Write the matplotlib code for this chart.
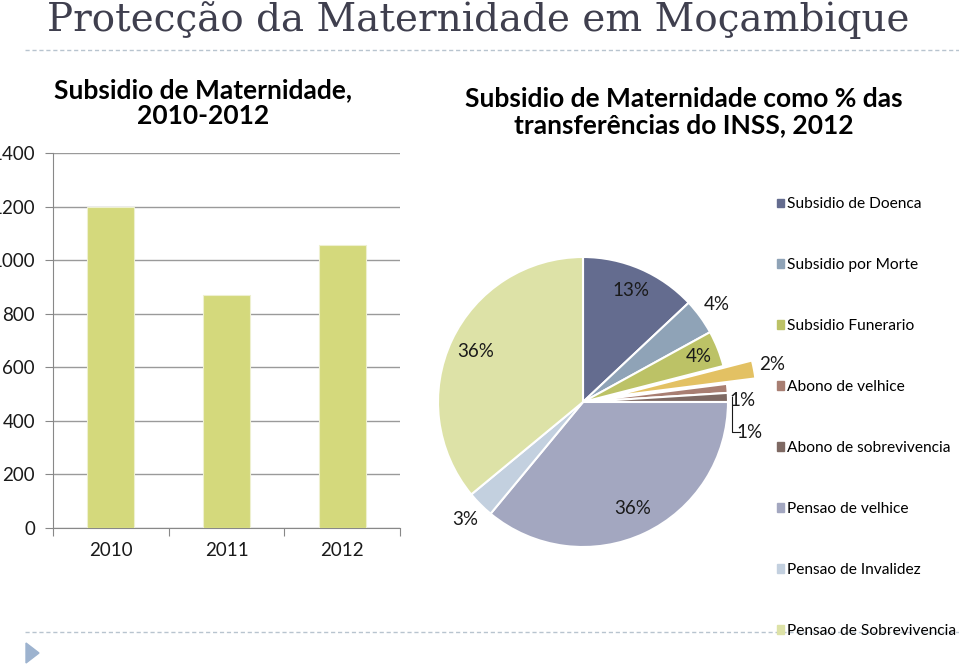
import matplotlib.pyplot as plt
from matplotlib.patches import Patch, Polygon
from matplotlib.lines import Line2D
import numpy as np

# Bar chart data
years = ["2010", "2011", "2012"]
subsidio = [1200, 870, 1055]

# Pie chart data (clockwise from 12 o'clock)
labels = ["Subsidio de Doenca", "Subsidio por Morte", "Subsidio Funerario",
          "Subsidio de Maternidade", "Abono de velhice", "Abono de sobrevivencia",
          "Pensao de velhice", "Pensao de Invalidez", "Pensao de Sobrevivencia"]
shares = [13, 4, 4, 2, 1, 1, 36, 3, 36]
colors = ["#646C8F", "#8FA3B7", "#BCC266", "#E3C163", "#A87E72", "#7E6963",
          "#A3A7C0", "#C3D0DF", "#DDE2A7"]
explode = [0, 0, 0, 0.2, 0, 0, 0, 0, 0]
label_dist = [0.84, 1.14, 0.86, 1.33, 1.1, 1.17, 0.81, 1.15, 0.82]
label_rot = [0, 0, 0, 0.5, -5, -12, 0, 0, 0]   # small angular nudges (deg)

W, H = 959, 664
fig = plt.figure(figsize=(W / 100, H / 100), dpi=100)
font = "Lato"

# slide title and decorations
fig.text(47 / W, 1 - 20 / H, "Protecção da Maternidade em Moçambique",
         family="DejaVu Serif", fontsize=28, color="#3F3F4E", va="center", ha="left")
fig.add_artist(Line2D([25 / W, 1], [1 - 50 / H] * 2, transform=fig.transFigure,
                      color="#B8C4CF", lw=1, ls=(0, (3, 2))))
fig.add_artist(Line2D([25 / W, 1], [1 - 632 / H] * 2, transform=fig.transFigure,
                      color="#B8C4CF", lw=1, ls=(0, (3, 2))))
fig.add_artist(Polygon([[26 / W, 1 - 643 / H], [26 / W, 1 - 663 / H], [39 / W, 1 - 653 / H]],
                       closed=True, transform=fig.transFigure, color="#9DB3CF"))

# bar chart
ax = fig.add_axes([53 / W, 1 - 528 / H, 347 / W, 375 / H])
x = np.arange(len(years))
ax.bar(x, subsidio, width=0.405, color="#D4D97C", edgecolor="#EEF0D0", lw=0.8, zorder=3)
ax.set_xlim(-0.5, 2.5)
ax.set_ylim(0, 1400)
ax.set_yticks(range(0, 1401, 200))
ax.yaxis.grid(True, color="#9A9A9A", lw=1)
ax.set_axisbelow(True)
ax.set_xticks([-0.5, 0.5, 1.5, 2.5])
ax.set_xticklabels([])
ax.set_xticks(x, minor=True)
ax.set_xticklabels(years, minor=True)
ax.tick_params(axis="x", which="minor", length=0, pad=10)
ax.tick_params(axis="x", which="major", length=6, direction="out", color="#888888")
ax.tick_params(axis="y", length=6, direction="out", color="#888888", pad=7)
for lab in ax.get_xticklabels(minor=True) + ax.get_yticklabels():
    lab.set_family(font)
    lab.set_fontsize(13.5)
    lab.set_color("#1A1A1A")
for s in ["top", "right"]:
    ax.spines[s].set_visible(False)
for s in ["left", "bottom"]:
    ax.spines[s].set_color("#888888")

fig.text(203 / W, 1 - 103 / H, "Subsidio de Maternidade,\n2010-2012", family=font,
         fontweight="bold", fontsize=19, ha="center", va="center", linespacing=1.1)
fig.text(684 / W, 1 - 112 / H, "Subsidio de Maternidade como % das\ntransferências do INSS, 2012",
         family=font, fontweight="bold", fontsize=19, ha="center", va="center", linespacing=1.1)

# pie chart
cx, cy, R = 583, 402, 145
side = 2.5 * R
pax = fig.add_axes([(cx - side / 2) / W, 1 - (cy + side / 2) / H, side / W, side / H])
wedges, _ = pax.pie(shares, colors=colors, startangle=90, counterclock=False,
                    explode=explode, wedgeprops=dict(edgecolor="white", linewidth=1.5))
pax.set_aspect("equal")

for w, v, d, rot in zip(wedges, shares, label_dist, label_rot):
    ang = np.deg2rad((w.theta1 + w.theta2) / 2 + rot)
    pax.text(d * np.cos(ang), d * np.sin(ang), f"{v}%", family=font, fontsize=13.5,
             ha="center", va="center", color="#1A1A1A")

# leader line for the last small slice
w = wedges[5]
a = np.deg2rad((w.theta1 + w.theta2) / 2)
x0, y0 = np.cos(a) * 1.0, np.sin(a) * 1.0
pax.plot([x0 + 0.03, x0 + 0.03, x0 + 0.08], [y0, y0 - 0.24, y0 - 0.24], color="#1A1A1A", lw=0.8)

# legend (maternity slice is not listed)
handles = [Patch(color=c) for i, c in enumerate(colors) if i != 3]
names = [l for i, l in enumerate(labels) if i != 3]
leg = fig.legend(handles, names, loc="upper left", bbox_to_anchor=(771 / W, 1 - 191 / H),
                 frameon=False, prop=dict(family=font, size=11.2), handlelength=0.45,
                 handleheight=0.45, handletextpad=0.2, labelspacing=3.02, borderaxespad=0)

fig.savefig("out.png", dpi=100)
